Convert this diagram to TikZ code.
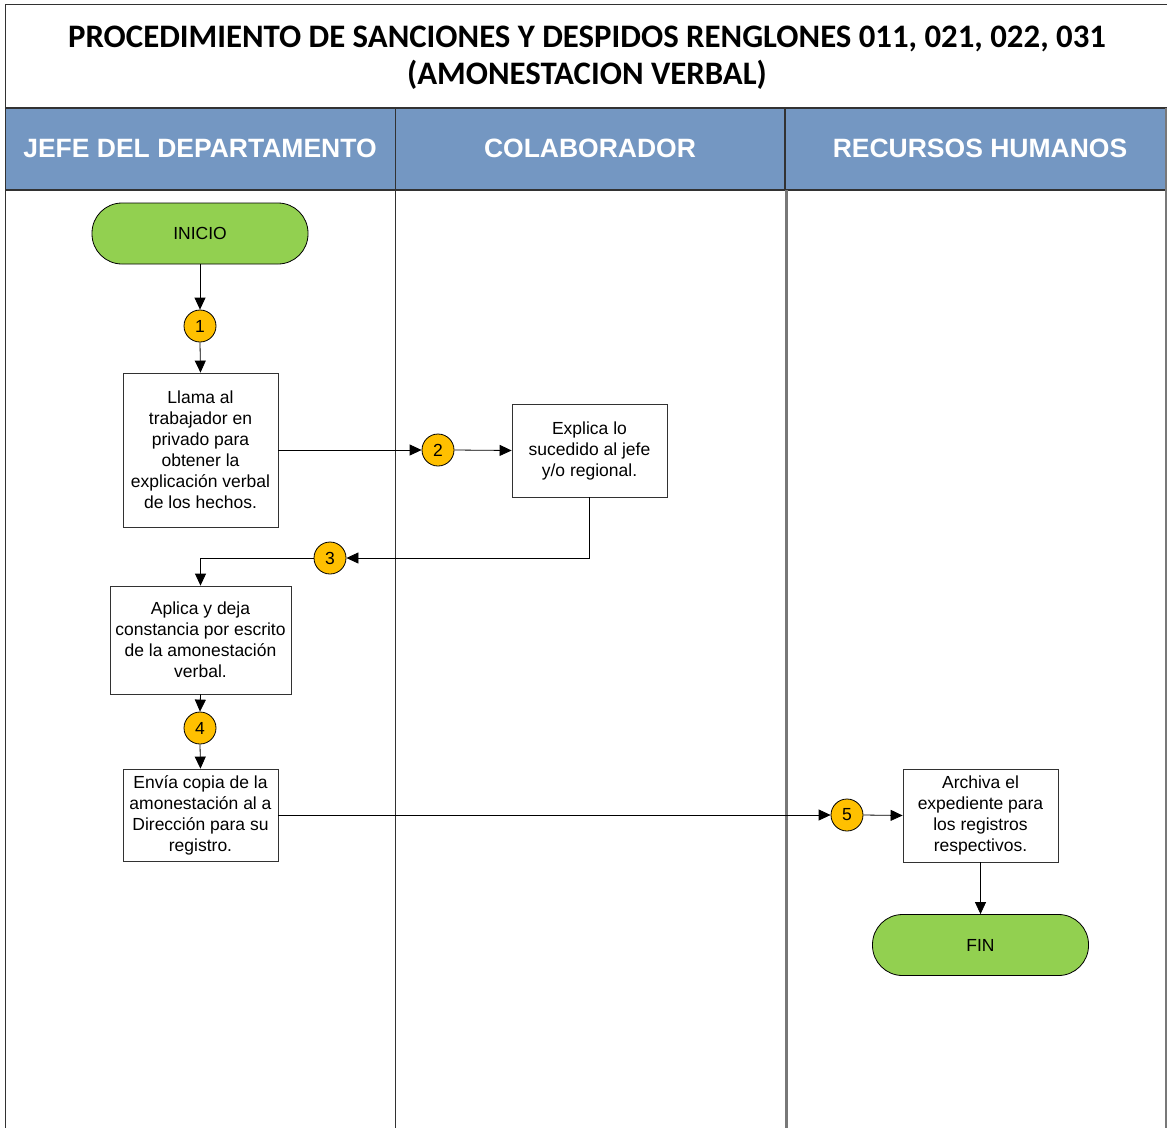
\documentclass[tikz,border=0pt]{standalone}
\usepackage{fontspec}
\setmainfont{Liberation Sans}
\newfontfamily\titlefont{Carlito}
\usetikzlibrary{arrows.meta}

\definecolor{laneblue}{RGB}{116,151,194}
\definecolor{startgreen}{RGB}{146,208,80}
\definecolor{stepgold}{RGB}{255,192,0}
\definecolor{rulegray}{RGB}{120,120,120}
\definecolor{edgedark}{RGB}{50,50,50}

\tikzset{
  task/.style={draw=edgedark, fill=white, line width=0.8pt, align=center,
    inner sep=1pt, font=\fontsize{17.5}{21}\selectfont},
  terminal/.style={draw=black, fill=startgreen, line width=0.8pt,
    rounded corners=30pt, minimum width=216pt, minimum height=61pt,
    font=\fontsize{17.5}{20}\selectfont},
  marker/.style={circle, draw=black, fill=stepgold, line width=0.8pt,
    minimum size=32pt, inner sep=0pt, font=\fontsize{17.5}{20}\selectfont},
  flow/.style={-{Triangle[length=12pt,width=11pt]}, line width=0.8pt},
  lanehead/.style={text=white, font=\fontsize{26.5}{30}\bfseries\selectfont},
}

\begin{document}
\begin{tikzpicture}[x=1pt,y=-1pt]
  \useasboundingbox (0,0) rectangle (1167,1127);

  % title block
  \draw[edgedark, line width=1pt] (5,4) rectangle (1172,108);
  \node[font=\titlefont\fontsize{32.8}{37}\bfseries\selectfont, align=center]
    (title) at (587,58)
    {PROCEDIMIENTO DE SANCIONES Y DESPIDOS RENGLONES 011, 021, 022, 031\\
     (AMONESTACION VERBAL)};

  % lane headers
  \fill[laneblue] (5,108) rectangle (1172,190);
  \draw[edgedark, line width=1.2pt] (5,108) -- (1172,108);
  \draw[edgedark, line width=1.2pt] (5,190) -- (1172,190);
  \node[lanehead] (h1) at (200,148) {JEFE DEL DEPARTAMENTO};
  \node[lanehead] (h2) at (590,148) {COLABORADOR};
  \node[lanehead] (h3) at (980,148) {RECURSOS HUMANOS};

  % lane separators
  \draw[edgedark, line width=1pt] (5.5,108) -- (5.5,1130);
  \draw[edgedark, line width=1.2pt] (395.5,108) -- (395.5,1130);
  \draw[edgedark, line width=1.2pt] (785,108) -- (785,190);
  \draw[rulegray, line width=3pt] (786,190) -- (786,1130);
  \draw[rulegray, line width=3pt] (1166,108) -- (1166,1130);

  % flow nodes
  \node[terminal] (start) at (200,233.5) {INICIO};
  \node[marker] (m1) at (200,326) {1};
  \node[task, minimum width=155pt, minimum height=154pt] (b1) at (200.5,450)
    {Llama al\\trabajador en\\privado para\\obtener la\\explicación verbal\\de los hechos.};
  \node[marker] (m2) at (438,450) {2};
  \node[task, minimum width=155pt, minimum height=93pt] (b2) at (589.5,450.5)
    {Explica lo\\sucedido al jefe\\y/o regional.};
  \node[marker] (m3) at (330,558) {3};
  \node[task, minimum width=181pt, minimum height=108pt] (b3) at (200.5,640)
    {Aplica y deja\\constancia por escrito\\de la amonestación\\verbal.};
  \node[marker] (m4) at (200,728) {4};
  \node[task, minimum width=155pt, minimum height=92pt] (b4) at (200.5,815)
    {Envía copia de la\\amonestación al a\\Dirección para su\\registro.};
  \node[marker] (m5) at (847,815) {5};
  \node[task, minimum width=155pt, minimum height=93pt] (b5) at (980.5,815.5)
    {Archiva el\\expediente para\\los registros\\respectivos.};
  \node[terminal] (stop) at (980.5,945) {FIN};

  % connectors
  \draw[flow] (start.south) -- (m1.north);
  \draw[flow] (m1.south) -- (b1.north);
  \draw[flow] (b1.east) -- (m2.west);
  \draw[flow] (m2.east) -- (b2.west);
  \draw[flow] (b2.south) |- (m3.east);
  \draw[flow] (m3.west) -| (b3.north);
  \draw[flow] (b3.south) -- (m4.north);
  \draw[flow] (m4.south) -- (b4.north);
  \draw[flow] (b4.east) -- (m5.west);
  \draw[flow] (m5.east) -- (b5.west);
  \draw[flow] (b5.south) -- (stop.north);
\end{tikzpicture}
\end{document}
